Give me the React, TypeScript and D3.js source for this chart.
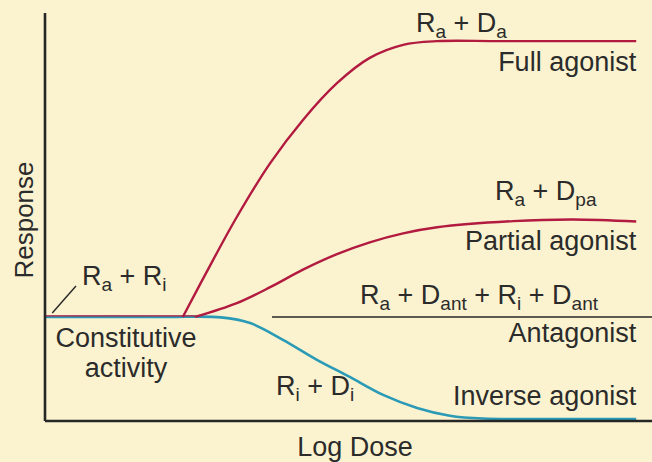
import React from "react";
import * as d3 from "d3";

// ---- data (log dose units 0..100, response units 0..100) ----
const baselineResponse = 25.5;
const constitutive: [number, number][] = [[0, 25.5], [24.7, 25.5]];
const fullAgonist: [number, number][] = [
  [22.7, 25.5], [27.7, 39.5], [31.6, 50], [37.1, 63.2], [42.5, 73.8],
  [48.1, 82.8], [53.5, 89.0], [59, 92.2], [64.6, 93.1], [75, 93.1], [97.4, 93.1],
];
const partialAgonist: [number, number][] = [
  [24.7, 25.5], [31.6, 28.9], [37.1, 32.8], [42.5, 37.1], [48.1, 40.9],
  [53.5, 43.8], [59, 46.0], [64.6, 47.5], [77.1, 49], [87, 49.4], [97.4, 48.9],
];
const antagonist: [number, number][] = [[37.4, 25.5], [100, 25.5]];
const inverseAgonist: [number, number][] = [
  [0, 25.5], [20, 25.5], [29, 25.4], [33.8, 24], [39.2, 19.9], [44.8, 15], [50.2, 10.8],
  [55.7, 6.4], [61.3, 3.2], [66.7, 1.3], [72.2, 0.6], [85, 0.5], [97.4, 0.5],
];

// label parts: alternating [normal, subscript, normal, subscript, ...]
const labelFull = ["R", "a", " + D", "a"];
const labelPartial = ["R", "a", " + D", "pa"];
const labelAntag = ["R", "a", " + D", "ant", " + R", "i", " + D", "ant"];
const labelInverse = ["R", "i", " + D", "i"];
const labelConst = ["R", "a", " + R", "i"];
const xTitle = "Log Dose";
const yTitle = "Response";

const W = 652;
const H = 462;
const BG = "#FBF3CF";
const RED = "#B21A40";
const TEAL = "#2A9AB6";
const INK = "#262626";
const TXT = "#2b2b2b";
const FS = 27;
const SUB = 19;
const font = "Liberation Sans, Arial, sans-serif";

function SubText({ parts, x, y, anchor = "start" }: { parts: string[]; x: number; y: number; anchor?: string }) {
  const shift = 6;
  return (
    <text x={x} y={y} fontSize={FS} fill={TXT} textAnchor={anchor} fontFamily={font}>
      {parts.map((p, i) => {
        const isSub = i % 2 === 1;
        let dy = 0;
        if (isSub) dy = shift;
        else if (i > 0) dy = -shift;
        return (
          <tspan key={i} dy={dy} fontSize={isSub ? SUB : FS} style={{ whiteSpace: "pre" }}>
            {p}
          </tspan>
        );
      })}
    </text>
  );
}

export default function App() {
  const x = d3.scaleLinear().domain([0, 100]).range([45, 652]);
  const y = d3.scaleLinear().domain([0, 100]).range([421, 13]);
  const curve = d3
    .line<[number, number]>()
    .x((d) => x(d[0]))
    .y((d) => y(d[1]))
    .curve(d3.curveCatmullRom.alpha(0.5));
  const straight = d3.line<[number, number]>().x((d) => x(d[0])).y((d) => y(d[1]));

  const endX = x(fullAgonist[fullAgonist.length - 1][0]);
  const fullY = y(fullAgonist[fullAgonist.length - 1][1]);
  const partY = y(d3.max(partialAgonist, (d) => d[1]) as number);
  const baseY = y(baselineResponse);
  const invY = y(inverseAgonist[inverseAgonist.length - 1][1]);

  return (
    <svg width={W} height={H} style={{ position: "fixed", left: 0, top: 0, background: BG }}>
      <rect width={W} height={H} fill={BG} />
      {/* curves */}
      <path d={curve(inverseAgonist) || ""} fill="none" stroke={TEAL} strokeWidth={2.6} />
      <path d={straight(constitutive) || ""} fill="none" stroke={RED} strokeWidth={1.3} transform="translate(0,-1)" />
      <path d={curve(fullAgonist) || ""} fill="none" stroke={RED} strokeWidth={2.4} />
      <path d={curve(partialAgonist) || ""} fill="none" stroke={RED} strokeWidth={2.4} />
      <path d={straight(antagonist) || ""} fill="none" stroke={INK} strokeWidth={1.6} />
      {/* axes */}
      <line x1={x(0)} x2={x(0)} y1={y(100)} y2={y(0)} stroke={INK} strokeWidth={2.6} />
      <line x1={x(0)} x2={x(100)} y1={y(0)} y2={y(0)} stroke={INK} strokeWidth={2.6} />
      {/* leader line for constitutive label */}
      <line x1={x(1.2)} y1={baseY - 4} x2={x(5.1)} y2={baseY - 31} stroke={INK} strokeWidth={1.4} />

      {/* labels */}
      <SubText parts={labelFull} x={416} y={fullY - 9} />
      <text x={endX} y={fullY + 30} fontSize={FS} fill={TXT} textAnchor="end" fontFamily={font}>Full agonist</text>
      <SubText parts={labelPartial} x={495} y={partY - 19} />
      <text x={endX} y={partY + 31} fontSize={FS} fill={TXT} textAnchor="end" fontFamily={font}>Partial agonist</text>
      <SubText parts={labelAntag} x={360} y={baseY - 13} />
      <text x={endX} y={baseY + 25} fontSize={FS} fill={TXT} textAnchor="end" fontFamily={font}>Antagonist</text>
      <SubText parts={labelInverse} x={276} y={395} />
      <text x={endX} y={invY - 14} fontSize={FS} fill={TXT} textAnchor="end" fontFamily={font}>Inverse agonist</text>
      <SubText parts={labelConst} x={82} y={baseY - 32} />
      <text x={126} y={baseY + 30} fontSize={FS} fill={TXT} textAnchor="middle" fontFamily={font}>Constitutive</text>
      <text x={126} y={baseY + 60} fontSize={FS} fill={TXT} textAnchor="middle" fontFamily={font}>activity</text>
      <text x={355} y={456} fontSize={FS} fill={TXT} textAnchor="middle" fontFamily={font}>{xTitle}</text>
      <text transform={`translate(33,${(y(0) + y(100)) / 2 + 3}) rotate(-90)`} fontSize={FS - 1} fill={TXT} textAnchor="middle" fontFamily={font}>{yTitle}</text>
    </svg>
  );
}
